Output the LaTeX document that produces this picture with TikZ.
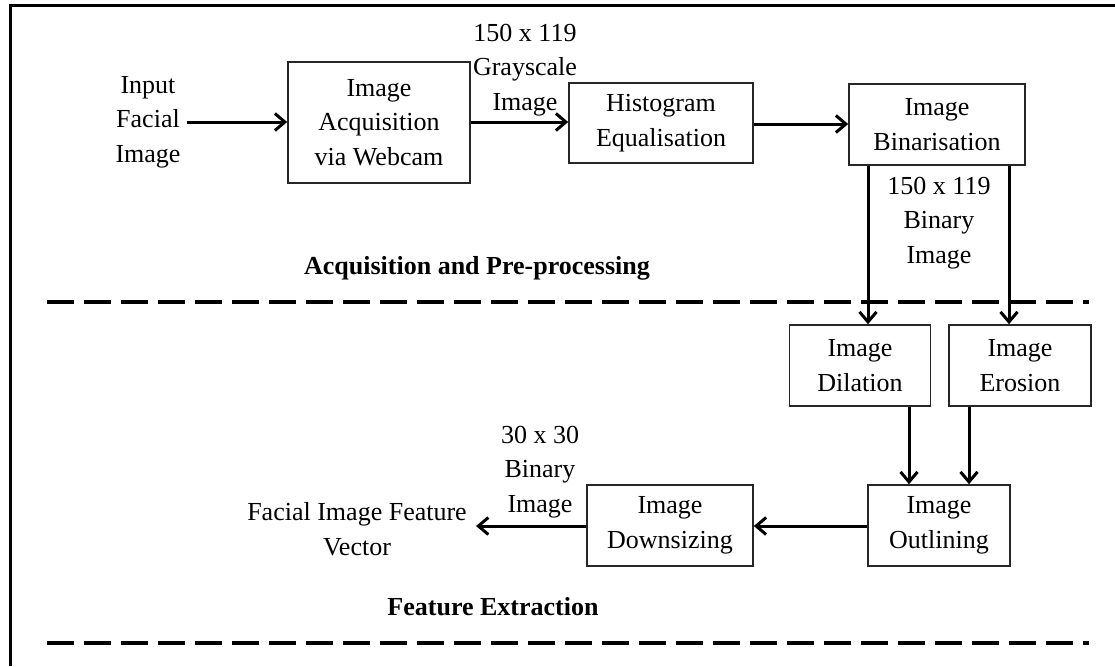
\documentclass[tikz,border=0pt]{standalone}
\usepackage{fontspec}
\setmainfont{Liberation Serif}
\usetikzlibrary{arrows.meta}
\begin{document}
\begin{tikzpicture}[x=1pt,y=-1pt,
  every node/.style={font=\fontsize{26}{34.5}\selectfont, align=center, inner sep=0pt},
  block/.style={draw=black!85, line width=1.6pt},
  flow/.style={line width=3pt, -{Straight Barb[length=10pt,width=17pt]}},
  section/.style={font=\fontsize{26}{34.5}\selectfont\bfseries},
  divider/.style={line width=4pt, dash pattern=on 27pt off 10pt}
]
\useasboundingbox (0,0) rectangle (1115,666);

% frame
\draw[line width=3pt] (10,666) -- (10,6) -- (1115,6);

% processing blocks
\node[block, minimum width=182pt, minimum height=121pt] (acq) at (379,122.5) {Image\\Acquisition\\via Webcam};
\node[block, minimum width=184pt, minimum height=80pt] (hist) at (661,123) {Histogram\\Equalisation};
\node[block, minimum width=176pt, minimum height=81pt] (bin) at (937,124.5) {Image\\Binarisation};
\node[block, minimum width=141pt, minimum height=81pt] (dil) at (860,365.5) {Image\\Dilation};
\node[block, minimum width=142pt, minimum height=81pt] (ero) at (1020,365.5) {Image\\Erosion};
\node[block, minimum width=142pt, minimum height=81pt] (outl) at (939,525.5) {Image\\Outlining};
\node[block, minimum width=166pt, minimum height=81pt] (down) at (670,525.5) {Image\\Downsizing};

% free labels
\node (input) at (148,122) {Input\\Facial\\Image};
\node (gray) at (525,70) {150 x 119\\Grayscale\\Image};
\node (binlab) at (939,223) {150 x 119\\Binary\\Image};
\node (small) at (540,472) {30 x 30\\Binary\\Image};
\node (vec) at (357,529) {Facial Image Feature\\Vector};
\node[section] (pre) at (477,268) {Acquisition and Pre-processing};
\node[section] (feat) at (493,607) {Feature Extraction};

% section dividers
\coordinate (d1a) at (47,302);
\coordinate (d1b) at (1089,302);
\coordinate (d2a) at (47,643);
\coordinate (d2b) at (1089,643);
\draw[divider] (d1a) -- (d1b);
\draw[divider] (d2a) -- (d2b);

% connectors
\coordinate (inEnd) at (187,122);
\coordinate (outEnd) at (476,526);
\draw[flow] (inEnd) -- (acq.west |- inEnd);
\draw[flow] (acq.east |- 0,122) -- (hist.west |- 0,122);
\draw[flow] (hist.east |- 0,124) -- (bin.west |- 0,124);
\draw[flow] (bin.south -| 868,0) -- (dil.north -| 868,0);
\draw[flow] (bin.south -| 1009,0) -- (ero.north -| 1009,0);
\draw[flow] (dil.south -| 909,0) -- (outl.north -| 909,0);
\draw[flow] (ero.south -| 969,0) -- (outl.north -| 969,0);
\draw[flow] (outl.west |- 0,526) -- (down.east |- 0,526);
\draw[flow] (down.west |- outEnd) -- (outEnd);
\end{tikzpicture}
\end{document}
